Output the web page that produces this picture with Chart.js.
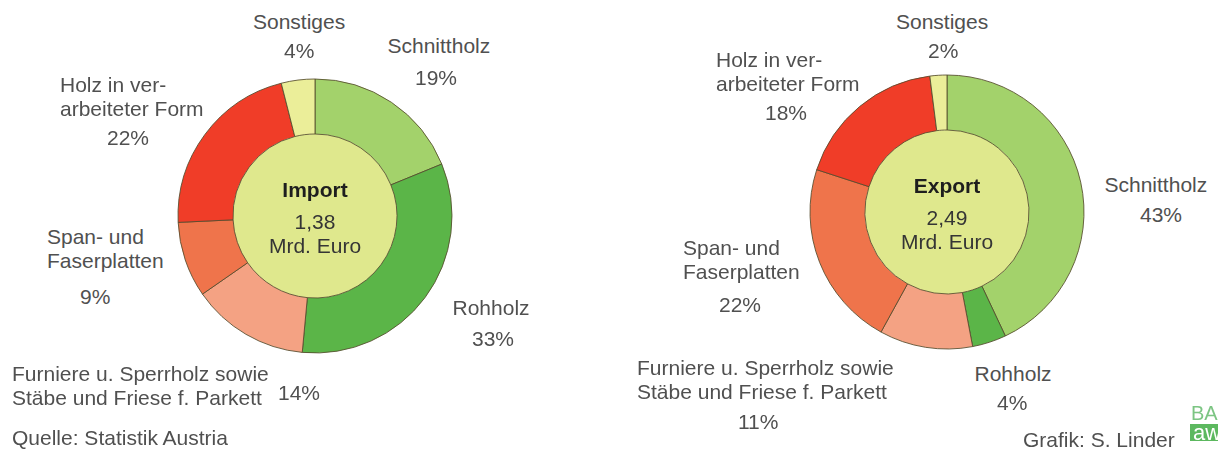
<!DOCTYPE html>
<html>
<head>
<meta charset="utf-8">
<script src="https://cdn.jsdelivr.net/npm/chart.js@4"></script>
<style>
  body { margin: 0; background: #fff; }
  #page { position: relative; width: 1218px; height: 451px; overflow: hidden;
          font-family: Arial, "Liberation Sans", sans-serif; color: #505050; }
  .box { position: absolute; width: 300px; height: 300px; }
  .lbl { position: absolute; font-size: 21px; line-height: 24px; white-space: nowrap; }
  .ctr { position: absolute; width: 160px; text-align: center; font-size: 21px; line-height: 24px; color: #353535; }
  .ctr b { color: #1e1e1e; }
</style>
</head>
<body>
<div id="page">
  <div class="box" id="boxImport"><canvas id="chartImport"></canvas></div>
  <div class="box" id="boxExport"><canvas id="chartExport"></canvas></div>
</div>
<script>
// Daten: Anteile in Prozent, im Uhrzeigersinn ab 12 Uhr
const kategorien = ['Schnittholz', 'Rohholz', 'Furniere u. Sperrholz sowie Stäbe und Friese f. Parkett',
  'Span- und Faserplatten', 'Holz in verarbeiteter Form', 'Sonstiges'];
const labelZeilen = [['Schnittholz'], ['Rohholz'], ['Furniere u. Sperrholz sowie', 'Stäbe und Friese f. Parkett'],
  ['Span- und', 'Faserplatten'], ['Holz in ver-', 'arbeiteter Form'], ['Sonstiges']];
const importAnteile = [19, 33, 14, 9, 22, 4];
const exportAnteile = [43, 4, 11, 22, 18, 2];
const titel = ['Import', 'Export'];
const summen = ['1,38', '2,49'];
const einheit = 'Mrd. Euro';

const farben = ['#a3d26b', '#5bb548', '#f4a283', '#ef744b', '#f03d28', '#ebee99'];
const mitte = '#dfe88d';
const rand = 'rgba(85,75,45,0.85)';

const page = document.getElementById('page');

// Kreismittelpunkte und Lage der Beschriftungen (Mitte x / Zeilenmitte y)
const zentren = [[315, 216], [947, 212]];
// pro Kategorie: [ausrichtung, x Name, y erste Zeile, x Prozent, y Prozent]
const lageImport = [
  ['c', 439, 46, 436, 78],
  ['c', 491, 308, 493, 339],
  ['l', 12, 374, 299, 393],
  ['l', 47, 237, 95, 297],
  ['l', 60, 85, 128, 138],
  ['c', 299, 22, 299, 51]
];
const lageExport = [
  ['c', 1156, 185, 1161, 215],
  ['c', 1013, 374, 1012, 403],
  ['l', 637, 368, 758, 422],
  ['l', 683, 248, 740, 305],
  ['l', 716, 60, 786, 113],
  ['c', 942, 22, 943, 51]
];

function text(html, x, y, align, cls) {
  let d = document.createElement('div');
  d.className = cls || 'lbl';
  d.innerHTML = html;
  page.appendChild(d);
  if (align == 'c') {
    d.style.left = (x - d.offsetWidth / 2) + 'px';
  } else if (align == 'r') {
    d.style.left = (x - d.offsetWidth) + 'px';
  } else {
    d.style.left = x + 'px';
  }
  d.style.top = (y - 12) + 'px';
  return d;
}

function beschriften(anteile, lage) {
  for (let i = 0; i < kategorien.length; i++) {
    let l = lage[i];
    text(labelZeilen[i].join('<br>'), l[1], l[2], l[0]);
    text(anteile[i] + '%', l[3], l[4], 'c');
  }
}

function donut(id, boxId, anteile, nr) {
  let c = zentren[nr];
  let box = document.getElementById(boxId);
  box.style.left = (c[0] - 150) + 'px';
  box.style.top = (c[1] - 150) + 'px';
  new Chart(document.getElementById(id), {
    type: 'doughnut',
    data: {
      labels: kategorien,
      datasets: [
        { data: anteile, backgroundColor: farben, borderColor: rand, borderWidth: 1, weight: 55 },
        { data: [1], backgroundColor: [mitte], borderWidth: 0, weight: 82 }
      ]
    },
    options: {
      responsive: true,
      maintainAspectRatio: false,
      animation: false,
      events: [],
      cutout: 0,
      radius: 137,
      plugins: { legend: { display: false }, tooltip: { enabled: false } }
    }
  });
  text('<b>' + titel[nr] + '</b><br><span style="position:relative;top:8px">' + summen[nr] +
    '<br>' + einheit + '</span>', c[0], c[1] - 26, 'c', 'ctr');
}

donut('chartImport', 'boxImport', importAnteile, 0);
donut('chartExport', 'boxExport', exportAnteile, 1);
beschriften(importAnteile, lageImport);
beschriften(exportAnteile, lageExport);

text('Quelle: Statistik Austria', 12, 438, 'l');
text('Grafik: S. Linder', 1175, 440, 'r');

// Logo-Rest am rechten Rand
let ba = text('BA', 1191, 413, 'l');
ba.style.color = '#7cc583';
ba.style.fontSize = '20px';
let aw = text('aw', 1190, 436, 'l');
aw.style.color = '#fff';
aw.style.background = '#5cb85f';
aw.style.fontSize = '22px';
aw.style.lineHeight = '17px';
aw.style.padding = '0 8px 0 3px';
</script>
</body>
</html>
